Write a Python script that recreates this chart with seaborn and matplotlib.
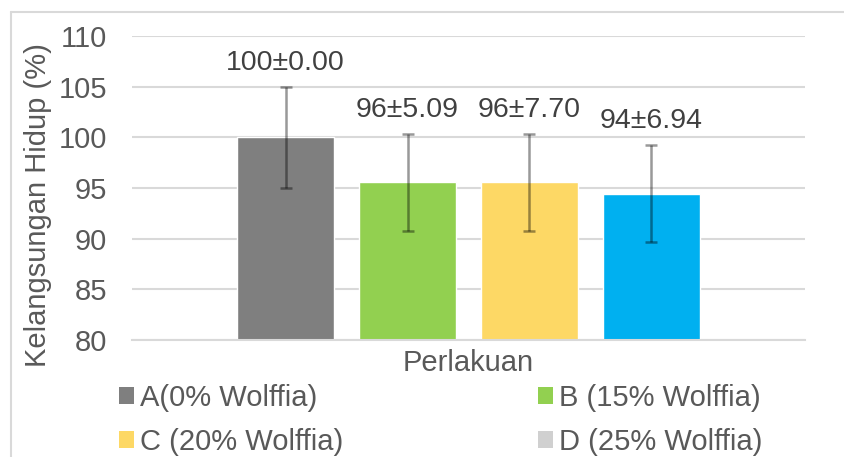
import matplotlib
matplotlib.use("Agg")
import matplotlib.pyplot as plt
import pandas as pd
import seaborn as sns
from matplotlib.lines import Line2D
from matplotlib.patches import Patch

# data
treatments = ["A(0% Wolffia)", "B (15% Wolffia)", "C (20% Wolffia)", "D (25% Wolffia)"]
survival = [100.0, 95.56, 95.56, 94.44]
errors = [5.0, 4.8, 4.8, 4.8]
value_labels = ["100±0.00", "96±5.09", "96±7.70", "94±6.94"]
bar_colors = ["#7F7F7F", "#92D050", "#FDD865", "#00B0F0"]
legend_colors = ["#7F7F7F", "#92D050", "#FDD865", "#D0D0D0"]
y_ticks = [80, 85, 90, 95, 100, 105, 110]

GRID = "#D9D9D9"
TXT = "#595959"
FS = 21

sns.set_theme(style="white")
plt.rcParams["font.family"] = ["Liberation Sans", "DejaVu Sans"]

df = pd.DataFrame({"group": "Perlakuan", "treatment": treatments, "survival": survival})

fig = plt.figure(figsize=(8.44, 4.57), dpi=100)
ax = fig.add_axes([132 / 844, 1 - 340 / 457, 673 / 844, 304 / 457])

sns.barplot(data=df, x="group", y="survival", hue="treatment", hue_order=treatments,
            palette=bar_colors, width=0.725, gap=0.2, errorbar=None, legend=False,
            saturation=1, ax=ax, zorder=2)

# error bars and labels on bar centres
for bar, val, err, lab in zip(ax.patches, survival, errors, value_labels):
    cx = bar.get_x() + bar.get_width() / 2
    ax.errorbar(cx, val, yerr=err, fmt="none", ecolor="black", alpha=0.4,
                elinewidth=1.8, capsize=4.3, capthick=1.8, zorder=3)
    ax.annotate(lab, (cx, val + err), xytext=(0, 17), textcoords="offset points",
                ha="center", va="center", fontsize=20.5, color="#404040")

ax.set_xlim(-0.5, 0.5)
ax.set_ylim(80, 110)
ax.set_yticks(y_ticks)
ax.set_xticks([])
ax.yaxis.grid(True, color=GRID, linewidth=1.5, zorder=0)
ax.set_axisbelow(True)
for s in ["left", "right", "top"]:
    ax.spines[s].set_visible(False)
ax.spines["bottom"].set_color(GRID)
ax.spines["bottom"].set_linewidth(1.5)
ax.tick_params(axis="y", length=0, pad=18, labelsize=FS, labelcolor=TXT)

ax.set_ylabel("Kelangsungan Hidup (%)", fontsize=FS, color=TXT)
ax.yaxis.set_label_coords(-0.119, 0.444)
ax.set_xlabel("Perlakuan", fontsize=FS, color=TXT)
ax.xaxis.set_label_coords(0.5, -0.03)

# legend fills row-wise in the reference: A B / C D
order = [0, 2, 1, 3]
handles = [Patch(facecolor=legend_colors[i], edgecolor="none") for i in order]
labels = [treatments[i] for i in order]
fig.legend(handles, labels, loc="upper left", bbox_to_anchor=(104 / 844, 1 - 369 / 457),
           ncol=2, frameon=False, fontsize=FS, labelcolor=TXT, borderpad=0,
           handlelength=0.52, handleheight=0.52, handletextpad=0.2,
           columnspacing=6.7, labelspacing=0.55)

# outer chart frame
fig.add_artist(Line2D([11 / 844, 1], [1 - 12 / 457] * 2, color=GRID, linewidth=1.5))
fig.add_artist(Line2D([11 / 844] * 2, [0, 1 - 12 / 457], color=GRID, linewidth=1.5))

fig.savefig("out.png", dpi=100)
